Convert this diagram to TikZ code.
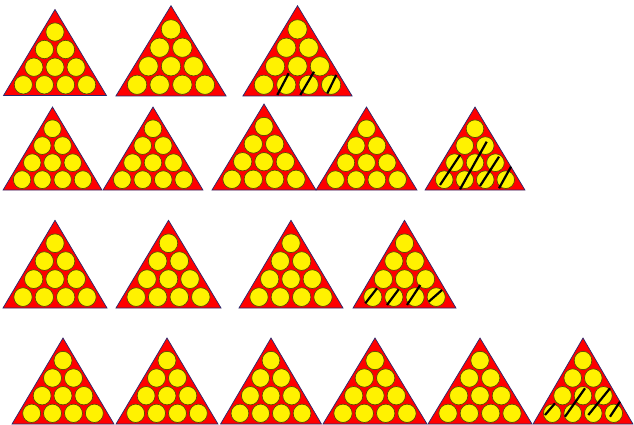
\documentclass[tikz,border=0pt]{standalone}
\begin{document}
\begin{tikzpicture}[x=1pt,y=-1pt,
  rackframe/.style={fill=red,draw={rgb,255:red,40;green,40;blue,110},line width=0.7pt,line join=miter},
  ball/.style={fill=yellow,draw={rgb,255:red,90;green,75;blue,0},line width=0.7pt},
  strike/.style={draw=black,line width=2.2pt},
  rack/.pic={
    \path[rackframe] (-52,0) -- (0,-86) -- (52,0) -- cycle;
    \foreach \x/\y in {-32/-10.7,-10.7/-10.7,10.7/-10.7,32/-10.7,
                       -21.3/-28.3,0/-28.3,21.3/-28.3,
                       -10.7/-46,10.7/-46,0/-63.5}
      {\path[ball] (\x,\y) circle[radius=9.2];}
  }]
\useasboundingbox (0,0) rectangle (634,425);
% row 1
\pic[xscale=0.99,yscale=1.0] at (55,95.5) {rack};
\pic[xscale=1.06,yscale=1.05] at (171,96) {rack};
\pic[xscale=1.05,yscale=1.05] at (297.5,96) {rack};
% row 2
\pic[xscale=0.95,yscale=0.965] at (52.5,190) {rack};
\pic[xscale=0.96,yscale=0.965] at (153,190) {rack};
\pic[xscale=1.0,yscale=1.0] at (264,190) {rack};
\pic[xscale=0.97,yscale=0.965] at (366.5,190) {rack};
\pic[xscale=0.96,yscale=0.965] at (475,190) {rack};
% row 3
\pic[xscale=1.0,yscale=1.02] at (55,308) {rack};
\pic[xscale=1.01,yscale=1.02] at (168.5,308) {rack};
\pic[xscale=1.0,yscale=1.02] at (291,308) {rack};
\pic[xscale=0.99,yscale=1.02] at (404.5,308) {rack};
% row 4
\pic[xscale=0.98,yscale=1.0] at (63,424) {rack};
\pic[xscale=0.98,yscale=1.0] at (167,424) {rack};
\pic[xscale=0.97,yscale=1.0] at (271,424) {rack};
\pic[xscale=1.0,yscale=1.0] at (375,424) {rack};
\pic[xscale=1.0,yscale=1.0] at (480,424) {rack};
\pic[xscale=0.96,yscale=1.0] at (583,424) {rack};
% strikes row 1
\path[strike] (277.3,95) -- (288.7,73.3);
\path[strike] (300.3,95) -- (314,71.7);
\path[strike] (327.3,93.3) -- (336.3,75);
% strikes row 2
\path[strike] (440,185) -- (460,155);
\path[strike] (460,189.3) -- (486.7,141.7);
\path[strike] (480,186) -- (499,156.7);
\path[strike] (499,188.3) -- (511,166.7);
% strikes row 3
\path[strike] (365.3,303.3) -- (377,288.3);
\path[strike] (387,305) -- (398.7,289.3);
\path[strike] (407,305) -- (420.3,285);
\path[strike] (428.7,301.7) -- (442,290);
% strikes row 4
\path[strike] (545,415) -- (555,403.3);
\path[strike] (565,416.7) -- (585,388.3);
\path[strike] (588.3,415) -- (610,388.3);
\path[strike] (610,416.7) -- (620,401.7);
\end{tikzpicture}
\end{document}
